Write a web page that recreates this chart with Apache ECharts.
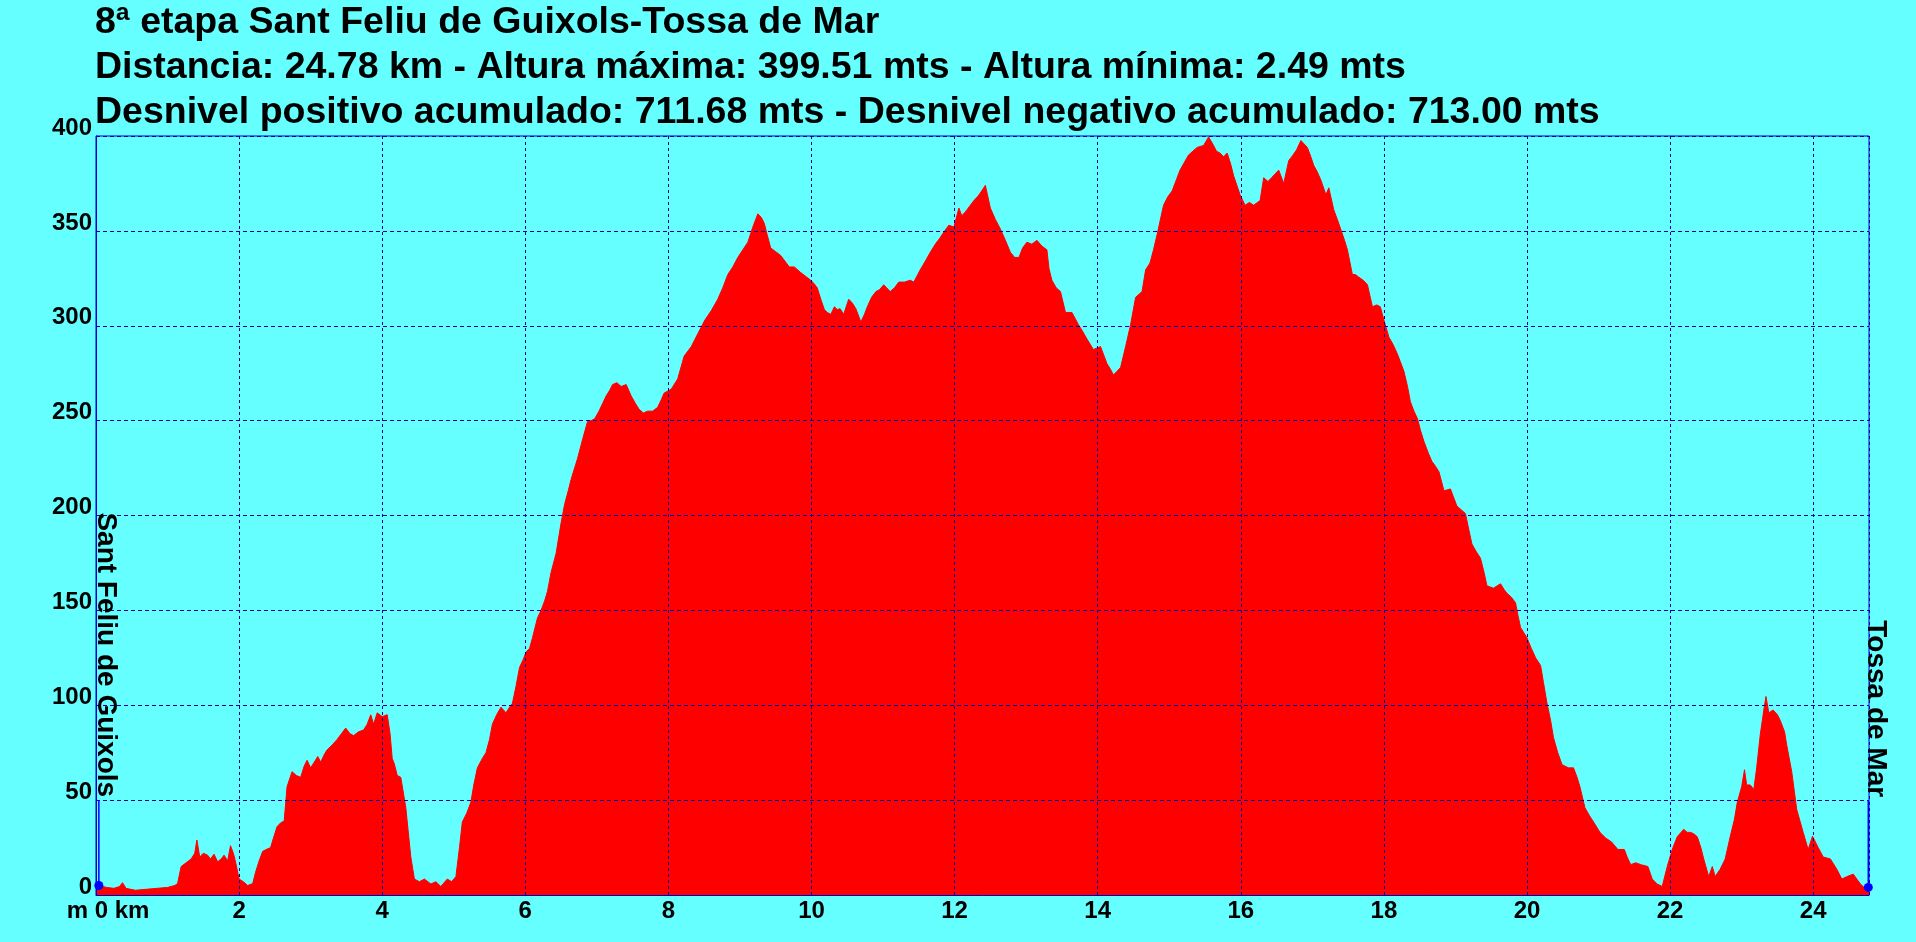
<!DOCTYPE html>
<html>
<head>
<meta charset="utf-8">
<script src="https://cdn.jsdelivr.net/npm/echarts@6/dist/echarts.min.js"></script>
<style>
html,body{margin:0;padding:0;background:#66ffff;}
#chart{width:1916px;height:942px;}
</style>
</head>
<body>
<div id="chart"></div>
<script>
// Title lines
const titleLines = [
  "8ª etapa Sant Feliu de Guixols-Tossa de Mar",
  "Distancia: 24.78 km - Altura máxima: 399.51 mts - Altura mínima: 2.49 mts",
  "Desnivel positivo acumulado: 711.68 mts - Desnivel negativo acumulado: 713.00 mts"
];

// Distance (km)
const distKm = [
0.00,0.04,0.15,0.25,0.33,0.37,0.42,0.55,0.70,0.85,1.00,1.10,1.14,1.19,1.26,1.33,1.38,1.41,1.45,1.50,
1.56,1.60,1.65,1.70,1.75,1.79,1.84,1.88,1.92,1.95,2.00,2.06,2.12,2.19,2.23,2.28,2.33,2.38,2.44,2.48,
2.53,2.58,2.63,2.67,2.74,2.80,2.86,2.91,2.95,3.00,3.05,3.10,3.14,3.19,3.23,3.30,3.37,3.43,3.49,3.55,
3.60,3.67,3.74,3.79,3.84,3.88,3.93,4.00,4.07,4.11,4.14,4.17,4.21,4.26,4.33,4.40,4.45,4.52,4.59,4.68,
4.75,4.82,4.91,4.97,5.03,5.08,5.12,5.18,5.24,5.28,5.33,5.40,5.45,5.50,5.54,5.60,5.66,5.73,5.78,5.82,
5.87,5.92,5.97,6.01,6.06,6.10,6.17,6.22,6.27,6.31,6.36,6.43,6.50,6.55,6.60,6.64,6.73,6.80,6.87,6.92,
6.97,7.03,7.08,7.13,7.18,7.22,7.28,7.34,7.41,7.48,7.54,7.59,7.65,7.71,7.78,7.85,7.90,7.94,8.04,8.13,
8.22,8.32,8.40,8.51,8.60,8.69,8.76,8.83,8.90,8.97,9.04,9.11,9.18,9.25,9.30,9.34,9.38,9.43,9.50,9.57,
9.63,9.69,9.76,9.85,9.92,9.99,10.04,10.08,10.13,10.18,10.22,10.27,10.32,10.36,10.40,10.45,10.52,10.57,10.62,10.66,
10.69,10.74,10.78,10.84,10.90,10.95,11.01,11.05,11.10,11.16,11.22,11.30,11.38,11.43,11.52,11.59,11.66,11.73,11.80,11.86,
11.92,11.99,12.06,12.10,12.15,12.21,12.27,12.32,12.36,12.43,12.50,12.57,12.64,12.71,12.78,12.84,12.90,12.95,13.01,13.08,
13.15,13.22,13.29,13.32,13.36,13.42,13.48,13.55,13.64,13.73,13.79,13.85,13.94,14.04,14.08,14.13,14.18,14.22,14.27,14.32,
14.39,14.46,14.53,14.62,14.67,14.73,14.78,14.83,14.92,14.98,15.04,15.10,15.15,15.21,15.27,15.33,15.39,15.48,15.55,15.62,
15.66,15.71,15.76,15.81,15.86,15.90,15.99,16.06,16.12,16.18,16.27,16.32,16.38,16.43,16.48,16.53,16.60,16.67,16.73,16.78,
16.84,16.88,16.93,16.97,17.02,17.07,17.12,17.19,17.23,17.30,17.35,17.40,17.45,17.49,17.56,17.60,17.65,17.71,17.77,17.84,
17.90,17.95,18.00,18.07,18.13,18.19,18.23,18.28,18.33,18.37,18.42,18.47,18.51,18.56,18.62,18.67,18.72,18.77,18.84,18.93,
19.02,19.08,19.14,19.19,19.23,19.29,19.35,19.40,19.44,19.53,19.63,19.68,19.72,19.78,19.84,19.87,19.91,20.00,20.06,20.12,
20.19,20.23,20.28,20.33,20.37,20.43,20.49,20.58,20.65,20.70,20.74,20.81,20.87,20.93,21.02,21.10,21.18,21.27,21.36,21.40,
21.45,21.52,21.59,21.69,21.75,21.82,21.89,21.96,22.03,22.10,22.19,22.24,22.29,22.34,22.38,22.43,22.47,22.54,22.59,22.63,
22.70,22.77,22.84,22.90,22.94,23.00,23.04,23.07,23.12,23.17,23.21,23.26,23.31,23.34,23.38,23.44,23.50,23.54,23.60,23.63,
23.70,23.77,23.86,23.93,23.99,24.07,24.14,24.24,24.33,24.40,24.49,24.56,24.66,24.74,24.78
];

// Altitude (m)
const altM = [
4,5,4,3.5,4.5,6.5,3.5,2.5,3,3.5,4,5,6,15,17,19,22,29,20,22,
21,19,21.5,17.5,19,21,18,26,22,17.5,8.4,7,5,6,12,18,23,24,25,30,
36,38,39,57,65,63,62,68,71,67,70,73,70,74,76.5,79,82,85,88,85,
84,86,87,90,95,90,96,94,95,85,72,69,63,62,46,20,8.4,7,8.4,5.8,
7,4.5,8.4,7,9.7,25,38.5,43,49,58,67,72,75,82,90,95,99,96,99,101,
110,120,124,128,130,135.5,146,150,155,160,170,180,196,206,213,219,230,240,249.5,250,
251,255,259,263,266,269,270,268,269,263,259,256,254,255,255,257,261,264.5,266.6,272,
284,289,295,303,308,314,320,327,331,336,340,344,352,359,357,354,348,341,339,337,
334,331,331,328,326,324,322,320,314,308.5,307,306,310,308.5,309,306,314,312,309,305,
302,306,310,315,318,319,321.6,320,318,320,323,323,324,323,329.5,334,338.7,343,346.5,350,
353,352,362,358,360,363,366,368,370,374,362,356,351,345,338.7,336,336,341,344,343,
345,342,340,330,324,320,318,307,307,300.6,297,293,287.5,289,285,280,277,274,276,278,
289,300.6,315,318,329.5,333,340,348,363.5,368,371,377,382,386,390,392,394,395,399.5,395,
392,391,389,391,385,379,369,363.5,365,363.5,366,378,376,378,380,382,375,387,390,392.7,
397.6,396,394,390,384.5,381,376.7,369,372.7,361,356,350.5,345,340,327,327,325.6,324,321.6,310,
311,310,303,294,290,285,281,276,268,260,255,251,245,239,233,228.6,226,223,213,214,
205,203,201,192,185,181,177.5,170,163,161.7,164,161,159,157,154,148,141,135.5,130,125,
121,112,101,92,83,75,68.7,67,67,62,57,46,42,38.5,33,30,28,24,24,20,
16,17,16,15,8.4,5.8,4.5,15,24,30.7,34.6,33,33,32,30.7,25,19,9.7,15,9.7,
13.6,19,30.7,40,49,57,66,58,58,55.6,67,84.4,97.5,104.6,96,97.5,95,92,86,79,
65,45,33,24,31,25,20,19,13.6,8.4,10,11,5.8,3,4
];

// Towns (start / end)
const townNames = ["Sant Feliu de Guixols", "Tossa de Mar"];
const townKm = [0.04, 24.77];
const townAlt = [5, 4];
const townLabelTop = 50;

// Axis settings
const xMax = 24.78;
const xStep = 2;
const yMax = 400;
const yStep = 50;

const FONT = "'Liberation Sans', Arial, sans-serif";
const profile = distKm.map((d, i) => [d, altM[i]]);

const townSeries = [];
townNames.forEach((name, i) => {
  townSeries.push({
    type: 'line',
    z: 6,
    silent: true,
    data: [
      { value: [townKm[i], townAlt[i]], symbol: 'circle', symbolSize: 9 },
      { value: [townKm[i], townLabelTop], symbol: 'none' }
    ],
    lineStyle: { color: '#0000ff', width: 1.5 },
    itemStyle: { color: '#0000ff' },
    animation: false
  });
  townSeries.push({
    type: 'scatter',
    z: 7,
    silent: true,
    symbolSize: 0,
    itemStyle: { opacity: 1, color: 'rgba(0,0,0,0)' },
    data: [{ value: [townKm[i], townLabelTop], name: name }],
    label: {
      show: true,
      formatter: '{b}',
      position: [-7, -3],
      rotate: -90,
      align: 'right',
      verticalAlign: 'bottom',
      opacity: 1,
      fontFamily: FONT,
      fontWeight: 'bold',
      fontSize: 28,
      color: '#000000'
    },
    animation: false
  });
});

const chart = echarts.init(document.getElementById('chart'), null, { renderer: 'canvas' });
chart.setOption({
  backgroundColor: '#66ffff',
  animation: false,
  title: {
    text: titleLines.join('\n'),
    left: 95,
    top: 0,
    padding: 0,
    textStyle: {
      fontFamily: FONT,
      fontWeight: 'bold',
      fontSize: 37.5,
      lineHeight: 45,
      color: '#000'
    }
  },
  grid: {
    left: 96, right: 47, top: 136, bottom: 47,
    show: true,
    backgroundColor: 'transparent',
    borderColor: '#0000cc',
    borderWidth: 1
  },
  xAxis: {
    type: 'value',
    min: 0, max: xMax, interval: xStep,
    z: 5,
    axisLine: { show: true, lineStyle: { color: '#0000cc', width: 1 } },
    axisTick: { show: false },
    axisLabel: {
      showMaxLabel: false,
      margin: 4,
      fontFamily: FONT, fontWeight: 'bold', fontSize: 24, color: '#000',
      formatter: v => v === 0 ? '{z|m 0 km}' : String(v),
      rich: { z: { fontFamily: FONT, fontWeight: 'bold', fontSize: 24, color: '#000', padding: [0, 0, 0, 24] } }
    },
    splitLine: { show: true, lineStyle: { color: '#0000aa', width: 1, type: [3, 3] } }
  },
  yAxis: {
    type: 'value',
    min: 0, max: yMax, interval: yStep,
    z: 5,
    axisLine: { show: true, lineStyle: { color: '#0000cc', width: 1 } },
    axisTick: { show: false },
    axisLabel: {
      margin: 4,
      verticalAlign: 'bottom',
      lineHeight: 16,
      fontFamily: FONT, fontWeight: 'bold', fontSize: 24, color: '#000'
    },
    splitLine: { show: true, lineStyle: { color: '#0000aa', width: 1, type: [4, 3] } }
  },
  series: [
    {
      type: 'line',
      z: 2,
      data: profile,
      showSymbol: false,
      symbol: 'none',
      sampling: 'none',
      lineStyle: { color: '#ff0000', width: 1 },
      areaStyle: { color: '#ff0000', opacity: 1 },
      silent: true
    }
  ].concat(townSeries)
});
</script>
</body>
</html>
